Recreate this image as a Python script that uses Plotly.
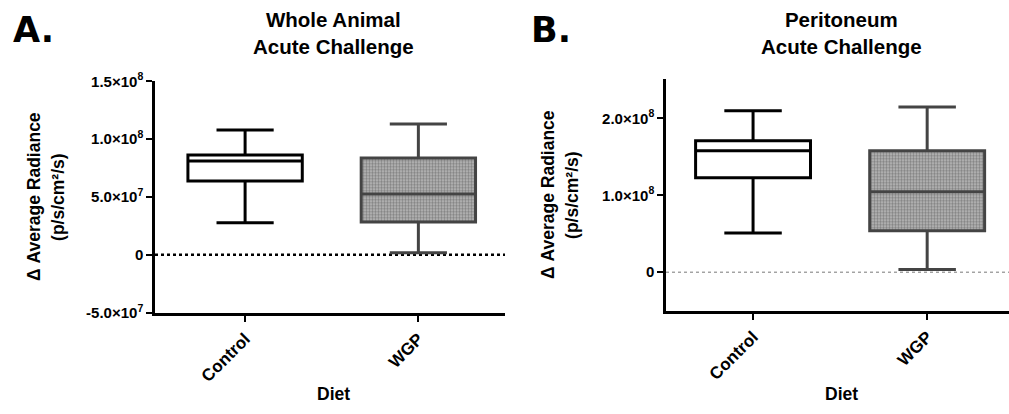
import plotly.graph_objects as go

W, H = 1009, 414

# ---------------- data ----------------
categories = ["Control", "WGP"]

# Panel A: Whole Animal, Acute Challenge
a_low = [2.76e7, 0.17e7]
a_q1 = [6.38e7, 2.84e7]
a_med = [8.10e7, 5.26e7]
a_q3 = [8.62e7, 8.36e7]
a_high = [10.78e7, 11.3e7]

# Panel B: Peritoneum, Acute Challenge
b_low = [0.51e8, 0.036e8]
b_q1 = [1.23e8, 0.54e8]
b_med = [1.58e8, 1.045e8]
b_q3 = [1.71e8, 1.58e8]
b_high = [2.10e8, 2.15e8]

a_tickvals = [-5e7, 0, 5e7, 1e8, 1.5e8]
a_ticktext = ["-5.0×10<sup>7</sup>", "0", "5.0×10<sup>7</sup>", "1.0×10<sup>8</sup>", "1.5×10<sup>8</sup>"]
b_tickvals = [0, 1e8, 2e8]
b_ticktext = ["0", "1.0×10<sup>8</sup>", "2.0×10<sup>8</sup>"]

titles = ["Whole Animal<br>Acute Challenge", "Peritoneum<br>Acute Challenge"]
panel_labels = ["A.", "B."]
ytitle_l1 = "Δ Average Radiance"
ytitle_l2 = "(p/s/cm²/s)"
xtitle = "Diet"

FONT = "Liberation Sans"

# compensation for how the page is photographed (vertical only)
SY, OY = 0.957, 10.5

def px_x(p):
    return min(1.0, p / W)

def px_y(p):
    return 1 - ((p - OY) / SY) / H

fig = go.Figure()

box_w = 0.66
styles = {
    "Control": dict(line="#000000", fill="#ffffff", pattern=False),
    "WGP": dict(line="#444444", fill="#ffffff", pattern=True),
}

def add_panel(xa, ya, low, q1, med, q3, high):
    for i, c in enumerate(categories):
        st = styles[c]
        if st["pattern"]:
            fig.add_trace(go.Bar(
                x=[c], y=[q3[i] - q1[i]], base=[q1[i]], width=box_w,
                marker=dict(color="#ffffff", line=dict(width=0),
                            pattern=dict(shape=".", fgcolor="#474747", bgcolor="#bcbcbc",
                                         size=3, solidity=0.5)),
                xaxis=xa, yaxis=ya, showlegend=False, hoverinfo="skip"))
        fig.add_trace(go.Box(
            x=[c], q1=[q1[i]], median=[med[i]], q3=[q3[i]],
            lowerfence=[low[i]], upperfence=[high[i]],
            width=box_w, whiskerwidth=0.5, boxpoints=False,
            fillcolor="rgba(0,0,0,0)" if st["pattern"] else st["fill"],
            line=dict(color=st["line"], width=3),
            xaxis=xa, yaxis=ya, showlegend=False))

add_panel("x", "y", a_low, a_q1, a_med, a_q3, a_high)
add_panel("x2", "y2", b_low, b_q1, b_med, b_q3, b_high)

axis_common = dict(showgrid=False, zeroline=False, showline=True, linecolor="#000000",
                   linewidth=2.5, ticks="outside", tickcolor="#000000", tickwidth=2)

xtickfont = dict(family=FONT, size=17, color="#000000", weight="bold")
ytickfont = dict(family=FONT, size=15, color="#000000", weight="bold")

fig.update_layout(
    width=W, height=H,
    margin=dict(l=0, r=0, t=0, b=0),
    paper_bgcolor="#ffffff", plot_bgcolor="#ffffff",
    boxmode="overlay", barmode="overlay", bargap=0,
    xaxis=dict(domain=[px_x(155), px_x(505)], anchor="y", type="category",
               range=[-0.52, 1.5], tickangle=-45, ticklen=7, tickfont=xtickfont,
               **axis_common),
    yaxis=dict(domain=[px_y(313), px_y(81)], anchor="x", range=[-5e7, 1.5e8],
               tickvals=a_tickvals, ticktext=a_ticktext, ticklen=6, tickfont=ytickfont,
               **axis_common),
    xaxis2=dict(domain=[px_x(666), 1.0], anchor="y2", type="category",
                range=[-0.5, 1.47], tickangle=-45, ticklen=7, tickfont=xtickfont,
                **axis_common),
    yaxis2=dict(domain=[px_y(311), px_y(79)], anchor="x2", range=[-0.5e8, 2.51e8],
                tickvals=b_tickvals, ticktext=b_ticktext, ticklen=6, tickfont=ytickfont,
                **axis_common),
)

# zero reference lines
fig.add_shape(type="line", xref="x domain", yref="y", x0=0, x1=1, y0=0, y1=0,
              line=dict(color="#000000", width=2.5, dash="dot"), layer="below")
fig.add_shape(type="line", xref="x2 domain", yref="y2", x0=0, x1=1, y0=0, y1=0,
              line=dict(color="#777777", width=1, dash="dot"), layer="below")

ann = []
# titles
for cx, t in zip([333, 841], titles):
    ann.append(dict(text=f"<b>{t}</b>", x=px_x(cx), y=px_y(33), xref="paper", yref="paper",
                    showarrow=False, xanchor="center", yanchor="middle",
                    font=dict(family=FONT, size=20.5, color="#000000")))
# panel labels
for lx, lab in zip([11, 529], panel_labels):
    ann.append(dict(text=f"<b>{lab}</b>", x=px_x(lx), y=px_y(30), xref="paper", yref="paper",
                    showarrow=False, xanchor="left", yanchor="middle",
                    font=dict(family="DejaVu Sans", size=35, color="#000000")))
# y titles
for x1, x2, cy in [(34, 58, 197), (548, 572, 195)]:
    ann.append(dict(text=f"<b>{ytitle_l1}</b>", x=px_x(x1), y=px_y(cy), xref="paper", yref="paper",
                    showarrow=False, textangle=-90, xanchor="center", yanchor="middle",
                    font=dict(family=FONT, size=17.5, color="#000000")))
    ann.append(dict(text=f"<b>{ytitle_l2}</b>", x=px_x(x2), y=px_y(cy), xref="paper", yref="paper",
                    showarrow=False, textangle=-90, xanchor="center", yanchor="middle",
                    font=dict(family=FONT, size=17.5, color="#000000")))
# x titles
for cx in [333, 841]:
    ann.append(dict(text=f"<b>{xtitle}</b>", x=px_x(cx), y=px_y(395), xref="paper", yref="paper",
                    showarrow=False, xanchor="center", yanchor="middle",
                    font=dict(family=FONT, size=17.5, color="#000000")))
fig.update_layout(annotations=ann)

fig.write_html(
    "out.html",
    config={"displayModeBar": False},
    post_script="document.body.style.margin='0';document.body.style.overflow='hidden';",
)
